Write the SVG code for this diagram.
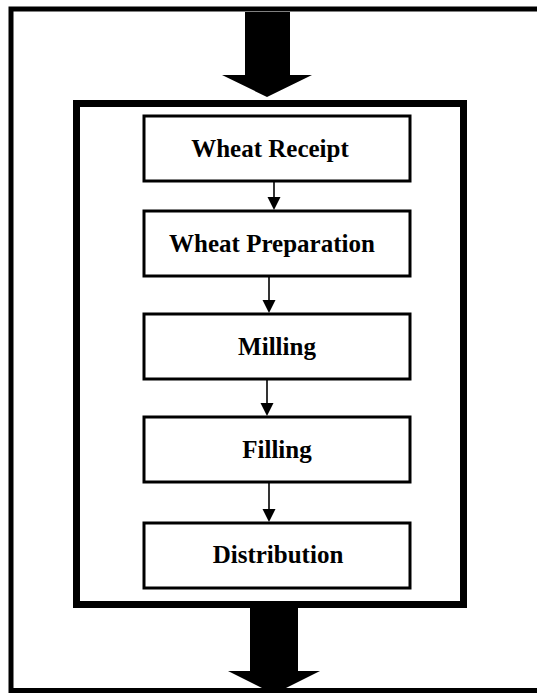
<svg xmlns="http://www.w3.org/2000/svg" width="537" height="693" viewBox="0 0 537 693">
<style>
.frame{fill:none;stroke:#000}
.box{fill:#fff;stroke:#000;stroke-width:3}
.lbl{font-family:"Liberation Serif","Times New Roman",serif;font-weight:bold;font-size:25px;fill:#000;text-anchor:middle}
.conn{stroke:#000;stroke-width:1.6;fill:none}
.big{fill:#000}
</style>
<defs>
<marker id="ah" markerWidth="13" markerHeight="14" refX="6.5" refY="14" orient="auto-start-reverse" markerUnits="userSpaceOnUse" viewBox="0 0 13 14">
<path d="M0,0 L13,0 L6.5,14 Z" fill="#000" transform="rotate(0)"/>
</marker>
</defs>
<rect width="537" height="693" fill="#fff"/>
<g id="outer-frame">
<path class="frame" stroke-width="5" d="M545,9 L11,9 L11,690.5 L545,690.5"/>
</g>
<g id="inner-frame">
<rect class="frame" stroke-width="7" x="76.5" y="103.5" width="387" height="501"/>
</g>
<g id="connectors">
<polygon class="big" points="245,12 290,12 290,75 312,75 267,97 222,75 245,75"/>
<polygon class="big" points="250,608 298,608 298,671 320,671 274,694 228,671 250,671"/>
<line class="conn" x1="274" y1="182" x2="274" y2="199"/>
<path d="M267.5,197 L280.5,197 L274,210 Z" fill="#000"/>
<line class="conn" x1="269" y1="277" x2="269" y2="302"/>
<path d="M262.5,300 L275.5,300 L269,313 Z" fill="#000"/>
<line class="conn" x1="267" y1="380" x2="267" y2="405"/>
<path d="M260.5,403 L273.5,403 L267,416 Z" fill="#000"/>
<line class="conn" x1="269" y1="483" x2="269" y2="511"/>
<path d="M262.5,509 L275.5,509 L269,522 Z" fill="#000"/>
</g>
<g id="wheat-receipt">
<rect class="box" x="144" y="116" width="266" height="65"/>
<text class="lbl" x="270" y="157">Wheat Receipt</text>
</g>
<g id="wheat-preparation">
<rect class="box" x="144" y="211" width="266" height="65"/>
<text class="lbl" x="272" y="252">Wheat Preparation</text>
</g>
<g id="milling">
<rect class="box" x="144" y="314" width="266" height="65"/>
<text class="lbl" x="277" y="355">Milling</text>
</g>
<g id="filling">
<rect class="box" x="144" y="417" width="266" height="65"/>
<text class="lbl" x="277" y="458">Filling</text>
</g>
<g id="distribution">
<rect class="box" x="144" y="523" width="266" height="65"/>
<text class="lbl" x="278" y="563">Distribution</text>
</g>
</svg>
